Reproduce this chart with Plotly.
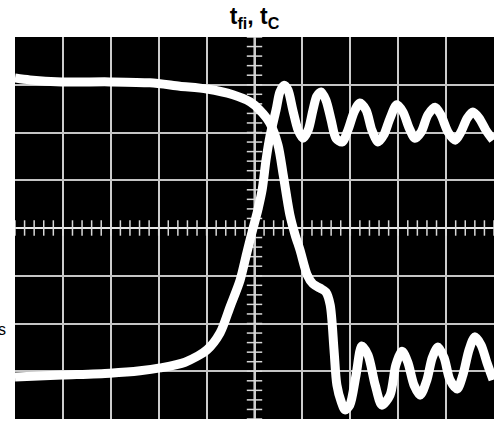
import numpy as np
import plotly.graph_objects as go

# Scope divisions: x 0..10 (horizontal), y -4..4 (vertical)
fall_x = [0, 0.31, 0.98, 1.98, 2.82, 3.44, 4.01, 4.55, 4.91, 5.11, 5.32, 5.49, 5.60, 5.74,
          5.85, 5.95, 6.10, 6.22, 6.37, 6.49, 6.58, 6.66, 6.72, 6.81, 6.89, 6.99, 7.12, 7.24,
          7.37, 7.52, 7.66, 7.83, 7.95, 8.08, 8.20, 8.33, 8.46, 8.60, 8.71, 8.83, 8.96, 9.08,
          9.23, 9.35, 9.48, 9.60, 9.73, 9.85, 9.98]
fall_y = [3.14, 3.10, 3.06, 3.06, 3.04, 2.97, 2.91, 2.79, 2.64, 2.47, 2.20, 1.74, 1.11, 0.27,
          -0.15, -0.46, -0.98, -1.17, -1.26, -1.34, -1.61, -2.55, -3.29, -3.64, -3.81, -3.71, -3.08, -2.47,
          -2.66, -3.29, -3.71, -3.50, -2.87, -2.58, -2.81, -3.29, -3.50, -3.18, -2.72, -2.49, -2.72, -3.18,
          -3.37, -3.08, -2.55, -2.28, -2.45, -2.81, -3.18]

rise_x = [0, 0.98, 1.98, 2.61, 3.03, 3.55, 4.01, 4.28, 4.49, 4.70, 4.84, 4.95, 5.07, 5.16,
          5.24, 5.32, 5.45, 5.53, 5.62, 5.70, 5.80, 5.91, 6.01, 6.12, 6.22, 6.30, 6.39, 6.49,
          6.60, 6.70, 6.83, 6.95, 7.08, 7.20, 7.33, 7.45, 7.58, 7.70, 7.83, 7.97, 8.10, 8.23,
          8.35, 8.48, 8.62, 8.77, 8.89, 9.04, 9.19, 9.31, 9.44, 9.56, 9.69, 9.83, 9.98]
rise_y = [-3.12, -3.08, -3.04, -2.99, -2.93, -2.81, -2.55, -2.20, -1.65, -1.09, -0.52, -0.08, 0.38, 0.80,
          1.42, 1.91, 2.47, 2.85, 2.99, 2.89, 2.47, 2.05, 1.88, 2.05, 2.47, 2.76, 2.85, 2.68,
          2.26, 1.88, 1.80, 2.05, 2.43, 2.62, 2.47, 2.05, 1.80, 1.95, 2.30, 2.58, 2.43, 2.09,
          1.88, 2.01, 2.37, 2.53, 2.37, 2.01, 1.84, 2.01, 2.30, 2.43, 2.30, 2.05, 1.84]

title_text = "t<sub>fi</sub>, t<sub>C</sub>"
side_label = "s"

fig = go.Figure()

# minor ticks along the centre cross
hx = np.arange(0, 10.001, 0.2)
vy = np.arange(-4, 4.001, 0.2)
fig.add_trace(go.Scatter(x=hx, y=np.zeros_like(hx), mode="markers",
                         marker=dict(symbol="line-ns", size=11, line=dict(width=1.5, color="#d8d8d8")),
                         hoverinfo="skip", showlegend=False))
fig.add_trace(go.Scatter(x=np.full_like(vy, 5.0), y=vy, mode="markers",
                         marker=dict(symbol="line-ew", size=11, line=dict(width=1.5, color="#d8d8d8")),
                         hoverinfo="skip", showlegend=False))

fig.add_trace(go.Scatter(x=rise_x, y=rise_y, mode="lines",
                         line=dict(color="white", width=9, shape="spline", smoothing=0.8),
                         showlegend=False))
fig.add_trace(go.Scatter(x=fall_x, y=fall_y, mode="lines",
                         line=dict(color="white", width=9, shape="spline", smoothing=0.8),
                         showlegend=False))

fig.add_shape(type="line", xref="x", yref="paper", x0=5, x1=5, y0=0, y1=1,
              line=dict(color="#e8e8e8", width=2), layer="below")

fig.update_layout(
    width=500, height=424,
    margin=dict(l=15, r=6, t=37, b=5),
    paper_bgcolor="white", plot_bgcolor="black",
    title=dict(text="<b>" + title_text + "</b>", x=0.509, xanchor="center", y=0.963, yanchor="middle",
               font=dict(family="Liberation Sans, Arial, sans-serif", size=23, color="black")),
    xaxis=dict(range=[0, 10], dtick=1, tick0=0, showticklabels=False, ticks="",
               showgrid=True, gridcolor="#cccccc", gridwidth=1.5, zeroline=False, showline=False,
               fixedrange=True),
    yaxis=dict(range=[-4, 4], dtick=1, tick0=0, showticklabels=False, ticks="",
               showgrid=True, gridcolor="#c4c4c4", gridwidth=1.5,
               zeroline=True, zerolinecolor="#e8e8e8", zerolinewidth=2, showline=False,
               fixedrange=True),
    annotations=[dict(text=side_label, xref="paper", yref="paper", x=-0.0146, y=0.233,
                      xanchor="right", yanchor="middle", showarrow=False,
                      font=dict(family="Liberation Sans, Arial, sans-serif", size=16, color="black"))],
)

fig.write_html("out.html", config={"displayModeBar": False},
               post_script="document.body.style.margin='0';")
